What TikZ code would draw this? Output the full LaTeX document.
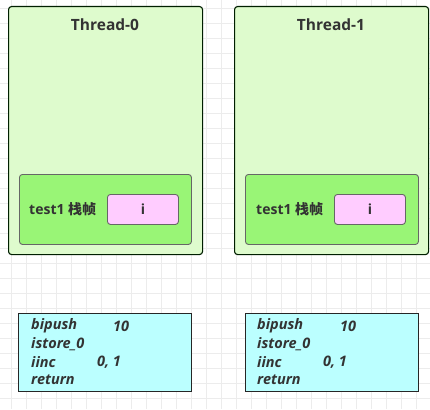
\documentclass[tikz,border=0pt]{standalone}
\usepackage{fontspec}
\setmainfont{Open Sans}
\newfontfamily\cjkf{Noto Sans CJK SC}
\begin{document}
\begin{tikzpicture}[x=1pt,y=-1pt,
  thread/.style={draw=black!80!green!60!black, line width=1.1pt, fill=threadfill, rounded corners=3pt},
  frame/.style={draw=black!60, line width=0.9pt, fill=framefill, rounded corners=3pt},
  slot/.style={draw=black!60, line width=0.9pt, fill=slotfill, rounded corners=3pt},
  code/.style={draw=black!85, line width=1.3pt, fill=codefill},
  lbl/.style={text=black!80, font=\bfseries\fontsize{15.5}{18}\selectfont},
  small/.style={text=black!80, font=\bfseries\fontsize{14}{16}\selectfont},
  ins/.style={text=black!80, font=\bfseries\itshape\fontsize{14.5}{16}\selectfont, anchor=west, inner sep=0pt}]
\definecolor{threadfill}{RGB}{222,251,205}
\definecolor{framefill}{RGB}{153,245,118}
\definecolor{slotfill}{RGB}{255,204,255}
\definecolor{codefill}{RGB}{187,255,255}
\definecolor{gridc}{RGB}{236,236,236}
\useasboundingbox (0,0) rectangle (430,409);
\fill[white] (0,0) rectangle (430,409);
\foreach \i in {0,...,28} { \draw[gridc, line width=0.6pt] (11.7+15*\i,0) -- (11.7+15*\i,409); }
\foreach \j in {0,...,27} { \draw[gridc, line width=0.6pt] (0,8+15*\j) -- (430,8+15*\j); }
% Thread-0
\node[thread, minimum width=194pt, minimum height=248pt, anchor=north west] (t0) at (8,6) {};
\node[lbl] (t0l) at (105,25) {Thread-0};
\node[frame, minimum width=172pt, minimum height=70pt, anchor=north west] (f0) at (19,174) {};
\node[small, anchor=west, inner sep=0pt] (f0l) at (29,209) {test1 {\cjkf 栈帧}};
\node[slot, minimum width=71pt, minimum height=30pt, anchor=north west] (s0) at (107,194) {};
\node[small] at (s0.center) {i};
% Thread-1
\node[thread, minimum width=194pt, minimum height=248pt, anchor=north west] (t1) at (234,6) {};
\node[lbl] (t1l) at (331,25) {Thread-1};
\node[frame, minimum width=173pt, minimum height=70pt, anchor=north west] (f1) at (245,174) {};
\node[small, anchor=west, inner sep=0pt] (f1l) at (256,209) {test1 {\cjkf 栈帧}};
\node[slot, minimum width=71pt, minimum height=30pt, anchor=north west] (s1) at (334,194) {};
\node[small] at (s1.center) {i};
% code boxes
\node[code, minimum width=173pt, minimum height=78pt, anchor=north west] (c0) at (18,313) {};
\node[ins] at (31,326) {bipush};
\node[ins] at (113,326) {10};
\node[ins] at (31,344) {istore\_0};
\node[ins] at (31,362) {iinc};
\node[ins] at (97,362) {0, 1};
\node[ins] at (31,380) {return};
\node[code, minimum width=173pt, minimum height=78pt, anchor=north west] (c1) at (245,313) {};
\node[ins] at (257,326) {bipush};
\node[ins] at (340,326) {10};
\node[ins] at (257,344) {istore\_0};
\node[ins] at (257,362) {iinc};
\node[ins] at (323,362) {0, 1};
\node[ins] at (257,380) {return};
\end{tikzpicture}
\end{document}
